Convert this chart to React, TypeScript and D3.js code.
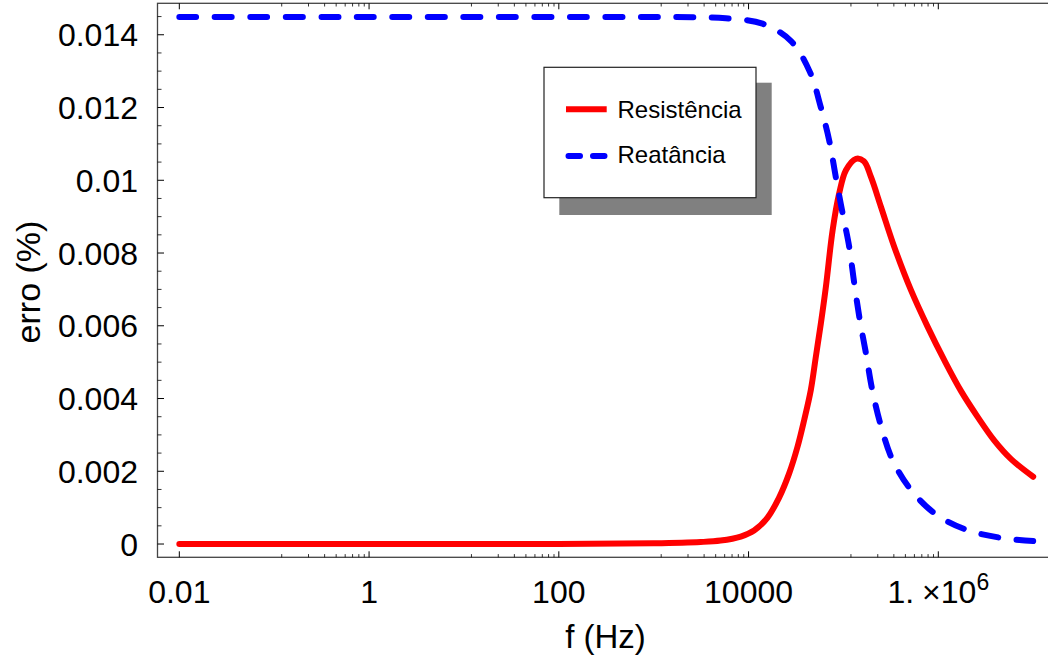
import { useEffect, useRef, useState } from "react";
import * as d3 from "d3";

// frequency (Hz) and error (%)
const resFreq = [0.01, 1, 100, 1000, 3119, 5070, 8279, 11430, 15850, 20990, 26790, 32810, 38550, 45290, 51170, 57810, 65310, 76910, 90160, 106200, 135500, 164400, 195000, 248900, 343600, 515200, 772700, 1156000, 1738000, 2606000, 3899000, 5848000, 10000000];
const resVal = [0, 0, 0.000001, 0.00002, 0.000055, 0.000096, 0.000206, 0.000371, 0.000728, 0.001277, 0.001942, 0.002673, 0.003407, 0.004231, 0.005146, 0.006063, 0.007069, 0.008626, 0.009635, 0.010275, 0.010591, 0.010522, 0.010091, 0.009266, 0.008168, 0.006978, 0.00597, 0.005055, 0.004203, 0.003489, 0.002843, 0.002335, 0.001849];

const reaFreq = [0.01, 1, 100, 1000, 3119, 5754, 14030, 27860, 44260, 57810, 71120, 83180, 97500, 115100, 130000, 148300, 172600, 199500, 245500, 324300, 502300, 933300, 2009000, 4699000, 10000000];
const reaVal = [0.01449, 0.01449, 0.01449, 0.01449, 0.01448, 0.014456, 0.014305, 0.013832, 0.01298, 0.012005, 0.011071, 0.010082, 0.009121, 0.008168, 0.00717, 0.006181, 0.005247, 0.004286, 0.003297, 0.002349, 0.001525, 0.000824, 0.000385, 0.000165, 0.000082];

const xTicks = [0.01, 1, 100, 10000, 1000000];
const xTickLabels = ["0.01", "1", "100", "10000", "1.×10^6"];
const yTicks = [0, 0.002, 0.004, 0.006, 0.008, 0.01, 0.012, 0.014];
const yTickLabels = ["0", "0.002", "0.004", "0.006", "0.008", "0.01", "0.012", "0.014"];
const seriesNames = ["Resistência", "Reatância"];

const W = 1048;
const H = 657;
const left = 157.5, right = 1055, top = 3.3, bottom = 557.3;
const font = "'Liberation Sans', Arial, Helvetica, sans-serif";
const axisColor = "#444";
const DASH = 17;

export default function App() {
  const blueRef = useRef<SVGPathElement>(null);
  const [dash, setDash] = useState(`${DASH} 19`);

  const x = d3.scaleLog().domain([Math.pow(10, -2.23), Math.pow(10, 7.23)]).range([left, right]);
  const y = d3.scaleLinear().domain([-0.000365, 0.014865]).range([bottom, top]);

  const line = d3.line<[number, number]>()
    .x(d => x(d[0]))
    .y(d => y(d[1]))
    .curve(d3.curveCatmullRom.alpha(0.5));

  const resPts = resFreq.map((f, i) => [f, resVal[i]] as [number, number]);
  const reaPts = reaFreq.map((f, i) => [f, reaVal[i]] as [number, number]);

  // stretch the dash period a little so the dashed curve ends on a dash
  useEffect(() => {
    const p = blueRef.current;
    if (!p) return;
    const L = p.getTotalLength();
    const n = Math.round((L - DASH) / 36);
    const period = (L - DASH) / n;
    setDash(`${DASH} ${period - DASH}`);
  }, []);

  // minor ticks: 8 evenly spaced (linear) between two major ticks
  const xMinor: number[] = [];
  for (let i = 0; i < xTicks.length - 1; i++) {
    const lo = xTicks[i], hi = xTicks[i + 1];
    for (let k = 1; k <= 8; k++) xMinor.push(lo + (k * (hi - lo)) / 9);
  }
  const yMinor: number[] = [];
  for (let v = 0; v <= 0.0146; v += 0.0005) {
    const r = Math.round(v * 10000) / 10000;
    if (Math.abs(r / 0.002 - Math.round(r / 0.002)) > 1e-6) yMinor.push(r);
  }

  return (
    <svg width={W} height={H} style={{ position: "absolute", left: 0, top: 0, background: "#fff" }} fontFamily={font}>
      <defs>
        <clipPath id="plotClip">
          <rect x={left} y={top} width={right - left} height={bottom - top} />
        </clipPath>
      </defs>

      {/* frame */}
      <rect x={left} y={top} width={right - left} height={bottom - top} fill="none" stroke={axisColor} strokeWidth={1.3} />

      {/* x ticks (bottom and top, pointing inward) */}
      {xTicks.map(t => (
        <g key={"xt" + t}>
          <line x1={x(t)} x2={x(t)} y1={bottom} y2={bottom - 6} stroke="#000" strokeWidth={1} />
          <line x1={x(t)} x2={x(t)} y1={top} y2={top + 6} stroke="#000" strokeWidth={1} />
        </g>
      ))}
      {xMinor.map(t => (
        <g key={"xm" + t}>
          <line x1={x(t)} x2={x(t)} y1={bottom} y2={bottom - 3.2} stroke="#000" strokeWidth={0.8} />
          <line x1={x(t)} x2={x(t)} y1={top} y2={top + 3.2} stroke="#000" strokeWidth={0.8} />
        </g>
      ))}

      {/* y ticks */}
      {yTicks.map(t => (
        <line key={"yt" + t} x1={left} x2={left + 6.5} y1={y(t)} y2={y(t)} stroke="#000" strokeWidth={1} />
      ))}
      {yMinor.map(t => (
        <line key={"ym" + t} x1={left} x2={left + 4} y1={y(t)} y2={y(t)} stroke="#000" strokeWidth={0.8} />
      ))}

      {/* tick labels */}
      {yTicks.map((t, i) => (
        <text key={"yl" + t} x={138} y={y(t)} dy="0.36em" textAnchor="end" fontSize={32} fill="#000">
          {yTickLabels[i]}
        </text>
      ))}
      {xTicks.map((t, i) => {
        const lab = xTickLabels[i];
        if (lab.includes("^")) {
          const [mant, exp] = lab.split("^");
          const parts = mant.split("×");
          return (
            <text key={"xl" + t} x={x(t)} y={603} textAnchor="middle" fontSize={32} fill="#000">
              {parts[0]}
              <tspan dx={8}>×</tspan>
              <tspan>{parts[1]}</tspan>
              <tspan dy={-13} fontSize={23}>{exp}</tspan>
            </text>
          );
        }
        return (
          <text key={"xl" + t} x={x(t)} y={603} textAnchor="middle" fontSize={32} fill="#000">
            {lab}
          </text>
        );
      })}

      {/* axis titles */}
      <text x={605.5} y={648} textAnchor="middle" fontSize={33} fill="#000">f (Hz)</text>
      <text transform="translate(40,282) rotate(-90)" textAnchor="middle" fontSize={34} fill="#000">erro (%)</text>

      {/* curves */}
      <g clipPath="url(#plotClip)">
        <path d={line(resPts) || ""} fill="none" stroke="#ff0000" strokeWidth={6} strokeLinecap="round" strokeLinejoin="round" />
        <path ref={blueRef} d={line(reaPts) || ""} fill="none" stroke="#0000ff" strokeWidth={6} strokeDasharray={dash} strokeLinecap="round" strokeLinejoin="round" />
      </g>

      {/* legend */}
      <rect x={559.3} y={82.7} width={212.4} height={132.3} fill="#808080" />
      <rect x={544} y={67.3} width={212} height={130.4} fill="#fff" stroke="#222" strokeWidth={1.2} />
      <line x1={566} x2={606.7} y1={109.3} y2={109.3} stroke="#ff0000" strokeWidth={6} />
      <text x={617.5} y={118.3} fontSize={24} fill="#000">{seriesNames[0]}</text>
      <line x1={568.5} x2={604.5} y1={156} y2={156} stroke="#0000ff" strokeWidth={6} strokeDasharray="11.5 13" strokeLinecap="round" />
      <text x={617.5} y={163.3} fontSize={24} fill="#000">{seriesNames[1]}</text>
    </svg>
  );
}
